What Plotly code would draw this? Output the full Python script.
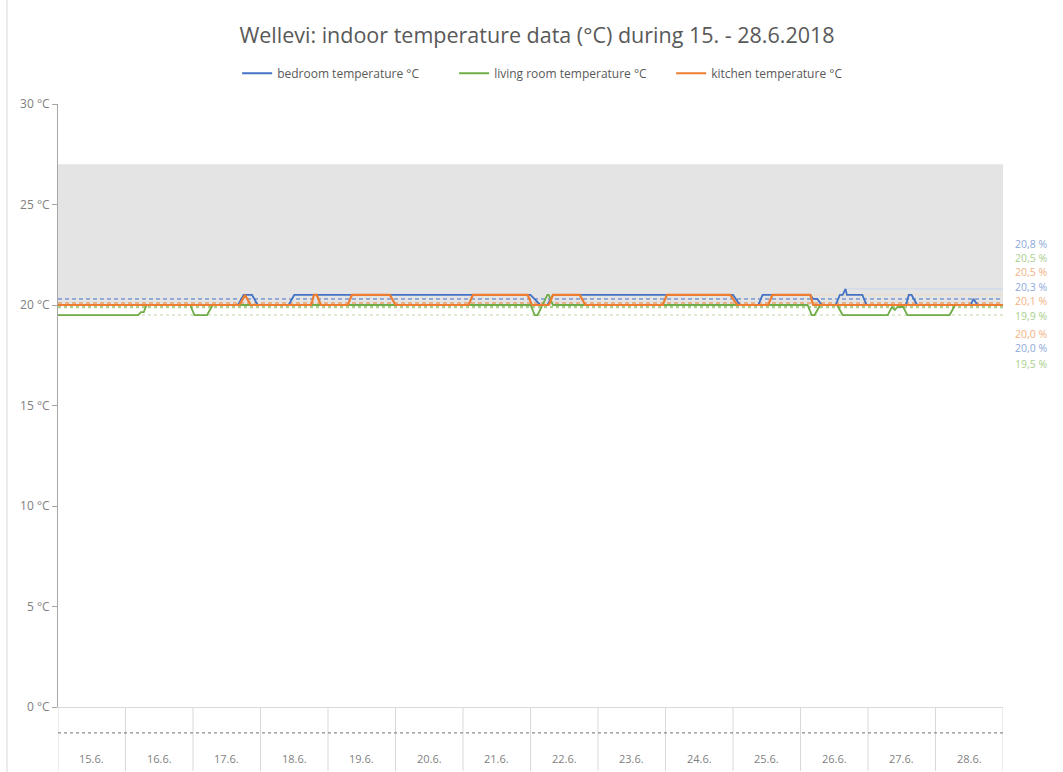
import pandas as pd
import plotly.graph_objects as go

# ---------------- data ----------------
days = ["15.6.", "16.6.", "17.6.", "18.6.", "19.6.", "20.6.", "21.6.",
        "22.6.", "23.6.", "24.6.", "25.6.", "26.6.", "27.6.", "28.6."]

# hours since 15.6.2018 00:00 and temperature (°C)
bed_hours = [0, 64, 66, 69, 71, 82, 84, 168, 171.5, 174, 176, 240, 242.5, 249, 250.5,
             267.5, 268.5, 270, 271.5, 276.5, 278, 279, 280, 280.5, 286, 287.5,
             301.5, 302.5, 303.5, 305.5, 324.5, 325.5, 327, 336]
bed_vals = [20.0, 20.0, 20.5, 20.5, 20.0, 20.0, 20.5, 20.5, 20.0, 20.0, 20.5, 20.5, 20.0, 20.0, 20.5,
            20.5, 20.3, 20.3, 20.0, 20.0, 20.5, 20.5, 20.8, 20.5, 20.5, 20.0,
            20.0, 20.5, 20.5, 20.0, 20.0, 20.3, 20.0, 20.0]

liv_hours = [0, 28.5, 29.5, 30.5, 31.5, 47, 48.5, 53, 55, 168, 169.5, 170.5, 174, 174.5, 176,
             266.5, 268, 269, 271, 277, 279, 295, 296.5, 297.5, 298.5, 300.5, 302, 317, 319, 336]
liv_vals = [19.5, 19.5, 19.65, 19.65, 20.0, 20.0, 19.5, 19.5, 20.0, 20.0, 19.5, 19.5, 20.5, 20.5, 20.0,
            20.0, 19.5, 19.5, 20.0, 20.0, 19.5, 19.5, 19.9, 19.75, 19.9, 19.9, 19.5, 19.5, 20.0, 20.0]

kit_hours = [0, 64.5, 66.5, 68.5, 90, 91, 92, 93.5, 103, 104.5, 118, 120, 146, 147.5, 167, 168.5,
             174.5, 176, 185.5, 187.5, 215, 216.5, 239, 241.5, 252.5, 254, 267.5, 268.5, 336]
kit_vals = [20.0, 20.0, 20.5, 20.0, 20.0, 20.5, 20.5, 20.0, 20.0, 20.5, 20.5, 20.0, 20.0, 20.5, 20.5, 20.0,
            20.0, 20.5, 20.5, 20.0, 20.0, 20.5, 20.5, 20.0, 20.0, 20.5, 20.5, 20.0, 20.0]

# statistics (max, average, min)
bed_stats = [20.8, 20.3, 20.0]
liv_stats = [20.5, 19.9, 19.5]
kit_stats = [20.5, 20.1, 20.0]

band_low, band_high = 20, 27   # comfort band °C

# ---------------- styles ----------------
BLUE, GREEN, ORANGE = "#4472C4", "#70AD47", "#ED7D31"
LBLUE, LGREEN, LORANGE = "#8EA9DB", "#A9D08E", "#F4B084"
FONT = "Open Sans"

base = pd.Timestamp("2018-06-15")
def t(hours):
    return [base + pd.Timedelta(hours=h) for h in hours]

start, end = base, base + pd.Timedelta(days=len(days))

fig = go.Figure()

# faint max / min reference lines
fig.add_trace(go.Scatter(x=t([0, 336]), y=[liv_stats[2]] * 2, mode="lines",
                         line=dict(color="#DDEBD3", width=2, dash="dot"),
                         showlegend=False, hoverinfo="skip"))
fig.add_trace(go.Scatter(x=t([174.5, 336]), y=[liv_stats[0]] * 2, mode="lines",
                         line=dict(color="#E3E9DC", width=1),
                         showlegend=False, hoverinfo="skip"))
fig.add_trace(go.Scatter(x=t([268.5, 336]), y=[kit_stats[0]] * 2, mode="lines",
                         line=dict(color="#EBDCCF", width=1.5),
                         showlegend=False, hoverinfo="skip"))
fig.add_trace(go.Scatter(x=t([280.5, 336]), y=[bed_stats[0]] * 2, mode="lines",
                         line=dict(color="#CAD6EE", width=1),
                         showlegend=False, hoverinfo="skip"))

# average lines
fig.add_trace(go.Scatter(x=t([0, 336]), y=[liv_stats[1]] * 2, mode="lines",
                         line=dict(color=LGREEN, width=2.5, dash="dot"),
                         showlegend=False, hoverinfo="skip"))
fig.add_trace(go.Scatter(x=t([0, 336]), y=[bed_stats[1]] * 2, mode="lines",
                         line=dict(color=BLUE, width=1, dash="4px,3px"),
                         showlegend=False, hoverinfo="skip"))
fig.add_trace(go.Scatter(x=t([0, 336]), y=[kit_stats[1]] * 2, mode="lines",
                         line=dict(color=ORANGE, width=1, dash="4px,3px"),
                         showlegend=False, hoverinfo="skip"))

# data series
fig.add_trace(go.Scatter(x=t(bed_hours), y=bed_vals, mode="lines", name="bedroom temperature °C",
                         line=dict(color=BLUE, width=1.8)))
fig.add_trace(go.Scatter(x=t(liv_hours), y=liv_vals, mode="lines", name="living room temperature °C",
                         line=dict(color=GREEN, width=1.8)))
fig.add_trace(go.Scatter(x=t(kit_hours), y=kit_vals, mode="lines", name="kitchen temperature °C",
                         line=dict(color=ORANGE, width=2.2)))

shapes = []
# grey comfort band
shapes.append(dict(type="rect", xref="x", yref="y", x0=start, x1=end, y0=band_low, y1=band_high,
                   fillcolor="#E4E4E4", line=dict(width=0), layer="below"))
# category separators below the axis
for i in range(len(days) + 1):
    d = base + pd.Timedelta(days=i)
    shapes.append(dict(type="line", xref="x", yref="paper", x0=d, x1=d, y0=0, y1=-0.106,
                       line=dict(color="#D9D9D9", width=1)))
# dotted line in the category area
shapes.append(dict(type="line", xref="paper", yref="paper", x0=0, x1=1, y0=-0.043, y1=-0.043,
                   line=dict(color="#8C8C8C", width=1.3, dash="dot")))
# chart outer border (left)
shapes.append(dict(type="line", xref="paper", yref="paper", x0=-0.054, x1=-0.054, y0=-0.11, y1=1.175,
                   line=dict(color="#D9D9D9", width=1)))

annotations = []
for i, d in enumerate(days):
    annotations.append(dict(x=base + pd.Timedelta(hours=24 * i + 12), xref="x", y=-0.085, yref="paper",
                            text=d, showarrow=False, font=dict(family=FONT, size=11, color="#7F7F7F"),
                            xanchor="center", yanchor="middle"))

# right-hand statistic labels (max, average, min), stacked to avoid overlap
labels = [(bed_stats[0], LBLUE), (liv_stats[0], LGREEN), (kit_stats[0], LORANGE),
          (bed_stats[1], LBLUE), (kit_stats[1], LORANGE), (liv_stats[1], LGREEN),
          (kit_stats[2], LORANGE), (bed_stats[2], LBLUE), (liv_stats[2], LGREEN)]
label_px = [243.5, 257.5, 271.5, 287, 301, 316, 334, 348, 364]
for (v, c), py in zip(labels, label_px):
    annotations.append(dict(x=1.03, xref="paper", y=1 - (py - 104) / 603, yref="paper",
                            text=f"{v:.1f}".replace(".", ",") + " %", showarrow=False,
                            font=dict(family=FONT, size=10.5, color=c),
                            xanchor="center", yanchor="middle"))

fig.update_layout(
    width=1063, height=772,
    margin=dict(l=58, r=60, t=104, b=65),
    paper_bgcolor="white", plot_bgcolor="white",
    font=dict(family=FONT, color="#595959"),
    title=dict(text="Wellevi: indoor temperature data (°C) during 15. - 28.6.2018",
               x=537 / 1063, xref="container", xanchor="center",
               y=1 - 35 / 772, yref="container", yanchor="middle",
               font=dict(family=FONT, size=21.5, color="#595959")),
    legend=dict(orientation="h", x=0.534, xanchor="center", y=1.051, yanchor="middle",
                entrywidth=172,
                font=dict(family=FONT, size=12, color="#595959"), bgcolor="rgba(0,0,0,0)"),
    xaxis=dict(type="date", range=[start, end], showticklabels=False, ticks="",
               showgrid=False, zeroline=False, showline=True, linecolor="#D9D9D9", linewidth=1),
    yaxis=dict(range=[0, 30], dtick=5, ticksuffix=" °C", ticks="outside", ticklen=5,
               tickcolor="#A6A6A6", showline=True, linecolor="#A6A6A6", linewidth=1,
               showgrid=False, zeroline=False,
               tickfont=dict(family=FONT, size=12, color="#808080")),
    shapes=shapes, annotations=annotations,
    hovermode=False,
)

fig.write_html("out.html", config={"displayModeBar": False},
               post_script="document.body.style.margin='0';document.body.style.padding='0';")
